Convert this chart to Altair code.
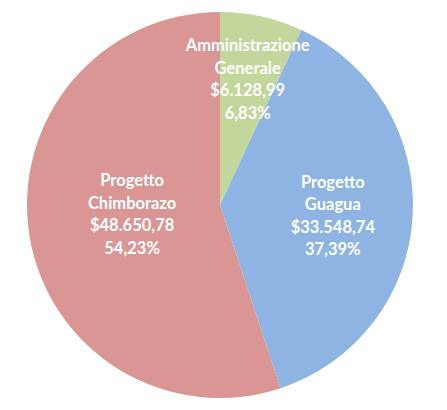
import altair as alt
import pandas as pd

categories = ["Amministrazione Generale", "Progetto Guagua", "Progetto Chimborazo"]
label_lines = [["Amministrazione", "Generale"], ["Progetto", "Guagua"], ["Progetto", "Chimborazo"]]
values = [6128.99, 33548.74, 48650.78]
value_labels = ["$6.128,99", "$33.548,74", "$48.650,78"]
percent_labels = ["6,83%", "37,39%", "54,23%"]
colors = ["#C3D69B", "#8DB4E2", "#D99694"]
label_radius = [128, 113, 89]
label_dy = [-34, -29, -38]

df = pd.DataFrame({
    "cat": categories,
    "value": values,
    "order": list(range(len(categories))),
    "label": ["\n".join(l + [v, p]) for l, v, p in zip(label_lines, value_labels, percent_labels)],
})

base = alt.Chart(df).encode(
    theta=alt.Theta("value:Q", stack=True),
    order=alt.Order("order:Q"),
)

shadow = alt.Chart(pd.DataFrame({"v": [1]})).mark_arc(
    outerRadius=196, color="#000000", opacity=0.06
).encode(theta=alt.Theta("v:Q"))

pie = base.mark_arc(outerRadius=193, stroke=None).encode(
    color=alt.Color("cat:N", scale=alt.Scale(domain=categories, range=colors), legend=None)
)

texts = []
for cat, r, dy in zip(categories, label_radius, label_dy):
    texts.append(
        base.mark_text(
            radius=r, font="Lato", fontWeight="bold", fontSize=16.5, color="#FFFFFF",
            lineBreak="\n", lineHeight=22.5, align="center", baseline="middle", dy=dy
        ).encode(
            text=alt.condition(alt.datum.cat == cat, "label:N", alt.value(""))
        )
    )

chart = alt.layer(shadow, pie, *texts).properties(
    width=424, height=394, padding=0, autosize=alt.AutoSizeParams(type="none")
).configure_view(stroke=None).configure(background="#FFFFFF")

chart.save("out.html", embed_options={"renderer": "svg", "actions": False})
